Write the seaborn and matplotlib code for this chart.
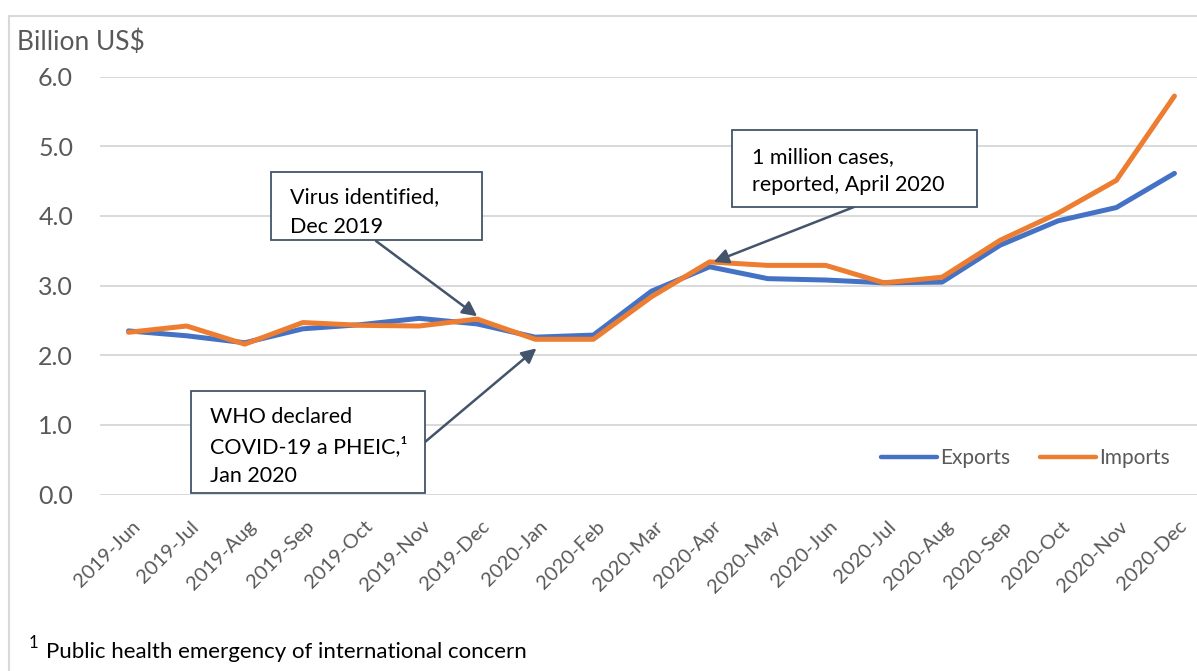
import pandas as pd
import numpy as np
import matplotlib.pyplot as plt
import matplotlib.transforms as mtransforms
import seaborn as sns
from matplotlib.patches import Rectangle

# data (billion US$)
months = ["2019-Jun", "2019-Jul", "2019-Aug", "2019-Sep", "2019-Oct", "2019-Nov",
          "2019-Dec", "2020-Jan", "2020-Feb", "2020-Mar", "2020-Apr", "2020-May",
          "2020-Jun", "2020-Jul", "2020-Aug", "2020-Sep", "2020-Oct", "2020-Nov",
          "2020-Dec"]
exports = [2.35, 2.28, 2.18, 2.38, 2.44, 2.53, 2.45, 2.26, 2.29, 2.92, 3.27, 3.10,
           3.08, 3.04, 3.05, 3.58, 3.93, 4.12, 4.61]
imports = [2.33, 2.42, 2.16, 2.47, 2.43, 2.42, 2.52, 2.23, 2.23, 2.84, 3.34, 3.29,
           3.29, 3.04, 3.12, 3.65, 4.04, 4.51, 5.72]
yticks = [0.0, 1.0, 2.0, 3.0, 4.0, 5.0, 6.0]

df = pd.DataFrame({
    "month": months * 2,
    "idx": list(range(len(months))) * 2,
    "value": exports + imports,
    "series": ["Exports"] * len(months) + ["Imports"] * len(months),
})

sns.set_style("white")
plt.rcParams["font.family"] = ["Lato", "DejaVu Sans"]

W, H = 1197, 671
fig = plt.figure(figsize=(W / 100, H / 100), dpi=100)
ax = fig.add_axes([99.5 / W, 1 - 494.7 / H, (1203.5 - 99.5) / W, (494.7 - 76.5) / H])

sns.lineplot(data=df, x="idx", y="value", hue="series", ax=ax,
             palette={"Exports": "#4472C4", "Imports": "#ED7D31"},
             linewidth=3.6, solid_capstyle="round", solid_joinstyle="round")

ax.set_xlim(-0.5, len(months) - 0.5)
ax.set_ylim(0, 6)
ax.set_yticks(yticks)
ax.set_yticklabels([f"{v:.1f}" for v in yticks], fontsize=18, color="#595959")
ax.set_xticks(range(len(months)))
ax.set_xticklabels(months, rotation=45, ha="right", va="center",
                   rotation_mode="anchor", fontsize=14.5, color="#595959")
ax.tick_params(axis="both", length=0)
ax.tick_params(axis="y", pad=19)
ax.tick_params(axis="x", pad=21)
# Excel puts the end of the rotated label a little right of the category centre
shift = mtransforms.ScaledTranslation(9 / 100, 0, fig.dpi_scale_trans)
for lbl in ax.get_xticklabels():
    lbl.set_transform(lbl.get_transform() + shift)
ax.set_xlabel("")
ax.set_ylabel("")
ax.grid(axis="y", color="#D9D9D9", linewidth=1.4)
ax.grid(axis="x", visible=False)
ax.set_axisbelow(True)
for s in ax.spines.values():
    s.set_visible(False)

# legend bottom right
handles, labels = ax.get_legend_handles_labels()
leg = ax.legend(handles, labels, loc="center right", ncol=2, frameon=False,
                bbox_to_anchor=(1170 / W, 1 - 458 / H), bbox_transform=fig.transFigure,
                fontsize=15, handlelength=2.7, handletextpad=0.15, columnspacing=1.4,
                borderaxespad=0, borderpad=0)
for t in leg.get_texts():
    t.set_color("#595959")
for lh in leg.get_lines():
    lh.set_linewidth(3.2)

# annotation boxes (reference pixel positions, top-down)
def fp(x, y):
    return (x / W, 1 - y / H)

notes = [
    # box x0, y0, x1, y1, text left, first line y, line gap, lines, arrow start, arrow tip (data)
    ((271, 172, 482, 240), 290, 197, 30, ["Virus identified,", "Dec 2019"], (376, 241), (6.0, 2.56)),
    ((191, 391, 425, 493), 210, 417, 29.5, ["WHO declared", "COVID-19 a PHEIC,\u00b9", "Jan 2020"], (425, 442), (7.02, 2.10)),
    ((732, 130, 977, 207), 752, 157, 28, ["1 million cases,", "reported, April 2020"], (854, 207), (10.07, 3.34)),
]
for (x0, y0, x1, y1), tx, ty, gap, lines, start, tip in notes:
    bx, by = fp(x0, y1)
    fig.add_artist(Rectangle((bx, by), (x1 - x0) / W, (y1 - y0) / H,
                             transform=fig.transFigure, facecolor="white",
                             edgecolor="#44546A", linewidth=1.3, zorder=5))
    for i, line in enumerate(lines):
        fig.text(*fp(tx, ty + i * gap), line, fontsize=15.5, color="black",
                 ha="left", va="center", zorder=6)
    ax.annotate("", xy=tip, xycoords="data", xytext=fp(*start),
                textcoords="figure fraction",
                arrowprops=dict(arrowstyle="-|>", color="#44546A", lw=1.8,
                                mutation_scale=22, shrinkA=0, shrinkB=0),
                zorder=6)

# axis unit label and footnote
fig.text(17 / W, 1 - 50 / H, "Billion US$", fontsize=19, color="#595959",
         ha="left", va="baseline")
fig.text(*fp(29, 643), "1", fontsize=12, color="black", ha="left", va="center")
fig.text(*fp(46, 658), "Public health emergency of international concern",
         fontsize=16, color="black", ha="left", va="baseline")

# light frame around the chart
fig.add_artist(Rectangle(fp(9, 700), 1.2, (700 - 16) / H, transform=fig.transFigure,
                         fill=False, edgecolor="#D9D9D9", linewidth=1.5, clip_on=False))

plt.savefig("out.png", dpi=100)
